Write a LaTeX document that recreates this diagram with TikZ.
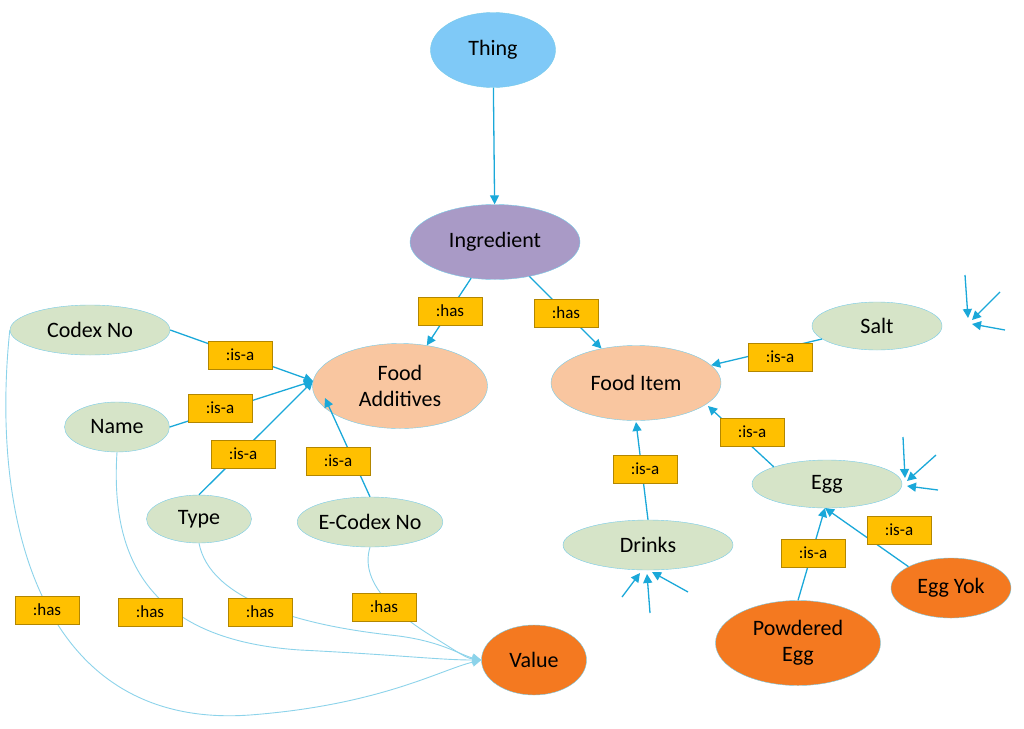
\documentclass[tikz,border=0pt]{standalone}
\usepackage{fontspec}
\setmainfont{Carlito}
\usetikzlibrary{arrows.meta,shapes.geometric}
\definecolor{cblue}{HTML}{7FC9F7}
\definecolor{cpurple}{HTML}{A99AC6}
\definecolor{cpeach}{HTML}{F9C6A0}
\definecolor{cgreen}{HTML}{D6E4C8}
\definecolor{corange}{HTML}{F47920}
\definecolor{clabel}{HTML}{FFC000}
\definecolor{cline}{HTML}{1AA8D9}
\definecolor{ccurve}{HTML}{8CD3EA}
\begin{document}
\begin{tikzpicture}[
		x=1pt,y=-1pt,
		>={Triangle[length=9pt,width=9pt]},
		concept/.style={
			ellipse,
			draw=cline!60,
			thin,
			font=\fontsize{22}{26}\selectfont,
			align=center,
			inner sep=0pt
		},
		rel/.style={
			rectangle,
			fill=clabel,
			draw=clabel!70!black,
			thin,
			font=\fontsize{17}{19}\selectfont,
			inner sep=3pt,
			minimum width=64pt,
			minimum height=28pt
		},
		link/.style={cline,line width=1.3pt},
		curve/.style={ccurve,line width=0.9pt}
		]
		\useasboundingbox (0,0) rectangle (1024,728);
		% concepts
		\node[concept,fill=cblue,minimum width=125,minimum height=75] (thing) at (493,50) {Thing};
		\node[concept,fill=cpurple,minimum width=170,minimum height=75] (ingredient) at (495,242) {Ingredient};
		\node[concept,fill=cpeach,minimum width=175,minimum height=85] (additives) at (400,386) {Food\\Additives};
		\node[concept,fill=cpeach,minimum width=170,minimum height=75] (item) at (636,383) {Food Item};
		\node[concept,fill=cgreen,minimum width=130,minimum height=48] (salt) at (877,326) {Salt};
		\node[concept,fill=cgreen,minimum width=160,minimum height=50] (codex) at (90,330) {Codex No};
		\node[concept,fill=cgreen,minimum width=105,minimum height=50] (name) at (117,427) {Name};
		\node[concept,fill=cgreen,minimum width=105,minimum height=48] (type) at (199,519) {Type};
		\node[concept,fill=cgreen,minimum width=145,minimum height=50] (ecodex) at (370,522) {E-Codex No};
		\node[concept,fill=cgreen,minimum width=170,minimum height=50] (drinks) at (648,545) {Drinks};
		\node[concept,fill=cgreen,minimum width=150,minimum height=48] (egg) at (827,484) {Egg};
		\node[concept,fill=corange,minimum width=165,minimum height=85] (powdered) at (798,643) {Powdered\\Egg};
		\node[concept,fill=corange,minimum width=120,minimum height=60] (eggyok) at (951,588) {Egg Yok};
		\node[concept,fill=corange,minimum width=105,minimum height=70] (value) at (534,660) {Value};

		\coordinate (fa) at (313,381);
		\coordinate (fi) at (708,406);
		\coordinate (fd) at (636,422);
		\coordinate (eg) at (825,508);

		% curves to value
		\draw[curve,->] (codex.west) .. controls (-10,520) and (40,730) .. (250,715) .. controls (380,705) and (440,670) .. (value.west);
		\draw[curve,->] (name.south) .. controls (110,560) and (150,640) .. (300,650) .. controls (400,655) and (440,660) .. (value.west);
		\draw[curve,->] (type.south) .. controls (210,600) and (300,625) .. (390,635) .. controls (440,640) and (460,655) .. (value.west);
		\draw[curve,->] (ecodex.south) .. controls (360,580) and (390,610) .. (430,635) .. controls (455,650) and (465,658) .. (value.west);

		% links
		\draw[link,->] (thing) -- (ingredient);
		\draw[link,->] (ingredient) -- (additives);
		\draw[link,->] (ingredient) -- (item);
		\draw[link,->] (codex.east) -- (fa);
		\draw[link,->] (name.east) -- (fa);
		\draw[link,->] (type.north) -- (fa);
		\draw[link,->] (ecodex.north) -- (325,398);
		\draw[link,->] (salt) -- (item);
		\draw[link,->] (egg.north west) -- (fi);
		\draw[link,->] (drinks.north) -- (fd);
		\draw[link,->] (powdered.north) -- (eg);
		\draw[link,->] (eggyok.north west) -- (eg);

		% loose arrows
		\foreach \fx/\fy/\tx/\ty in {965/275/968/318, 1000/292/972/320, 1005/330/972/324,
				903/437/905/478, 936/455/907/481, 938/490/907/486,
				622/597/640/573, 650/613/647/574, 688/592/652/572}
			\draw[link,->] (\fx,\fy) -- (\tx,\ty);

		% relation labels
		\node[rel] (r1) at (450,311) {:has};
		\node[rel] (r2) at (566,313) {:has};
		\node[rel] (r3) at (240,355) {:is-a};
		\node[rel] (r4) at (220,408) {:is-a};
		\node[rel] (r5) at (243,454) {:is-a};
		\node[rel] (r6) at (338,461) {:is-a};
		\node[rel] (r7) at (780,357) {:is-a};
		\node[rel] (r8) at (752,432) {:is-a};
		\node[rel] (r9) at (645,469) {:is-a};
		\node[rel] (r10) at (813,553) {:is-a};
		\node[rel] (r11) at (899,530) {:is-a};
		\node[rel] (r12) at (47,610) {:has};
		\node[rel] (r13) at (150,612) {:has};
		\node[rel] (r14) at (260,612) {:has};
		\node[rel] (r15) at (384,607) {:has};
		\end{tikzpicture}
\end{document}
